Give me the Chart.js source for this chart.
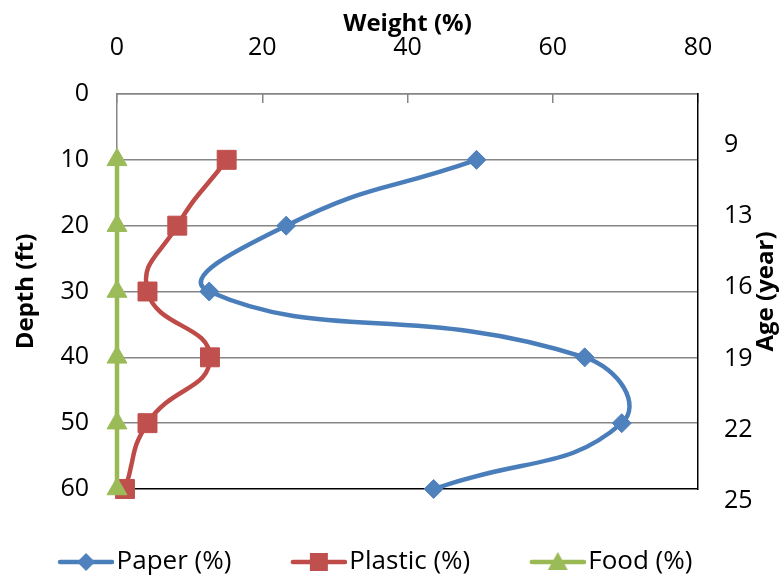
<!DOCTYPE html>
<html>
<head>
<meta charset="utf-8">
<script src="https://cdn.jsdelivr.net/npm/chart.js@4.4.0/dist/chart.umd.min.js"></script>
<style>
  html, body { margin: 0; padding: 0; background: #fff; }
</style>
</head>
<body>
<canvas id="graficAdancime" width="783" height="580"></canvas>
<script>
// depth of each sample (ft) and the share of each waste type (%)
const depths = [10, 20, 30, 40, 50, 60];
const paperPct = [49.5, 23.3, 12.7, 64.4, 69.5, 43.6];
const plasticPct = [15.1, 8.3, 4.2, 12.8, 4.2, 1.1];
const foodPct = [0, 0, 0, 0, 0, 0];
// age of the layers, shown on the right axis
const ageYears = [9, 13, 16, 19, 22, 25];

const culori = {
    paper: { line: '#4A7EBB', marker: '#4F81BD' },
    plastic: { line: '#BE4B48', marker: '#C0504D' },
    food: { line: '#98B954', marker: '#9BBB59' }
};

Chart.defaults.font.family = "'Open Sans', sans-serif";
Chart.defaults.color = '#000';

function puncte(valori) {
    return depths.map((d, i) => ({ x: valori[i], y: d }));
}

// small line + marker picture used as legend symbol
function iconLegenda(c, forma) {
    const cv = document.createElement('canvas');
    cv.width = 66; cv.height = 28;
    const g = cv.getContext('2d');
    g.strokeStyle = c.line;
    g.lineWidth = 4.5;
    g.lineCap = 'round';
    g.beginPath(); g.moveTo(12, 14); g.lineTo(64, 14); g.stroke();
    const cx = 38, cy = 14;
    g.fillStyle = c.marker;
    g.beginPath();
    if (forma === 'rectRot') {
        g.moveTo(cx - 9, cy); g.lineTo(cx, cy - 9); g.lineTo(cx + 9, cy); g.lineTo(cx, cy + 9);
    } else if (forma === 'rect') {
        g.rect(cx - 9, cy - 9, 18, 18);
    } else {
        g.moveTo(cx, cy - 10); g.lineTo(cx + 10, cy + 8); g.lineTo(cx - 10, cy + 8);
    }
    g.closePath();
    g.fill();
    return cv;
}
const iconite = [iconLegenda(culori.paper, 'rectRot'), iconLegenda(culori.plastic, 'rect'), iconLegenda(culori.food, 'triangle')];

// title of the right axis, reads bottom to top
const titluDreapta = {
    id: 'titluDreapta',
    afterLayout(chart) {
        // legend sits a bit left of centre
        chart.legend.left -= 16;
        chart.legend.right -= 16;
    },
    afterDraw(chart) {
        const ctx = chart.ctx;
        ctx.save();
        ctx.translate(766, chart.chartArea.top + (chart.chartArea.bottom - chart.chartArea.top) / 2);
        ctx.rotate(-Math.PI / 2);
        ctx.font = "bold 24px 'Open Sans', sans-serif";
        ctx.fillStyle = '#000';
        ctx.textAlign = 'center';
        ctx.textBaseline = 'middle';
        ctx.fillText('Age (year)', 0, 0);
        ctx.restore();
    }
};

function serie(label, valori, c, forma, raza, ordine) {
    return {
        label: label,
        data: puncte(valori),
        showLine: true,
        borderColor: c.line,
        backgroundColor: c.marker,
        borderWidth: 4.5,
        tension: 0.5,
        pointStyle: forma,
        pointRadius: raza,
        pointHoverRadius: raza,
        pointBackgroundColor: c.marker,
        pointBorderColor: c.marker,
        pointBorderWidth: 1,
        clip: false,
        order: ordine,
        xAxisID: 'x',
        yAxisID: 'y'
    };
}

const ctx = document.getElementById('graficAdancime').getContext('2d');
const grafic = new Chart(ctx, {
    type: 'scatter',
    data: {
        datasets: [
            serie('Paper (%)', paperPct, culori.paper, 'rectRot', 9.5, 2),
            serie('Plastic (%)', plasticPct, culori.plastic, 'rect', 13.4, 1),
            serie('Food (%)', foodPct, culori.food, 'triangle', 11.5, 0)
        ]
    },
    options: {
        responsive: false,
        animation: false,
        layout: { padding: { bottom: -5 } },
        plugins: {
            tooltip: { enabled: false },
            legend: {
                position: 'bottom',
                labels: {
                    usePointStyle: true,
                    pointStyleWidth: 45,
                    padding: 60,
                    font: { size: 26 },
                    color: '#000',
                    sort: (a, b) => a.datasetIndex - b.datasetIndex,
                    generateLabels(chart) {
                        const items = Chart.defaults.plugins.legend.labels.generateLabels(chart);
                        items.forEach(it => { it.pointStyle = iconite[it.datasetIndex]; });
                        return items;
                    }
                }
            }
        },
        scales: {
            x: {
                type: 'linear',
                position: 'top',
                min: 0,
                max: 80,
                ticks: { stepSize: 20, padding: 40, font: { size: 25 } },
                grid: { drawOnChartArea: false, drawTicks: true, tickLength: -9, color: '#868686', lineWidth: 1.5 },
                border: { color: '#868686', width: 1.5 },
                title: { display: true, text: 'Weight (%)', font: { size: 24, weight: 'bold' }, padding: { top: 10, bottom: 0 } },
                afterFit(axis) { axis.height = 94; }
            },
            y: {
                type: 'linear',
                position: 'left',
                reverse: true,
                min: 0,
                max: 60,
                ticks: { stepSize: 10, padding: 28, font: { size: 25 } },
                grid: {
                    drawTicks: false,
                    lineWidth: 1.5,
                    color: c => (c.tick && c.tick.value === 60 ? '#000' : '#868686')
                },
                border: { color: '#868686', width: 1.5 },
                title: { display: true, text: 'Depth (ft)', font: { size: 24, weight: 'bold' }, padding: { top: 12, bottom: 0 } },
                afterFit(axis) { axis.width = 117; }
            },
            age: {
                type: 'linear',
                axis: 'y',
                position: 'right',
                reverse: true,
                min: -0.714,
                max: 4.83,
                afterBuildTicks(axis) { axis.ticks = ageYears.map((a, i) => ({ value: i })); },
                ticks: { padding: 26, autoSkip: false, font: { size: 25 }, callback: v => ageYears[Math.round(v)] },
                grid: { display: false, drawTicks: false },
                border: { color: '#000', width: 1.5 },
                afterFit(axis) { axis.width = 85; }
            }
        }
    },
    plugins: [titluDreapta]
});
</script>
</body>
</html>
